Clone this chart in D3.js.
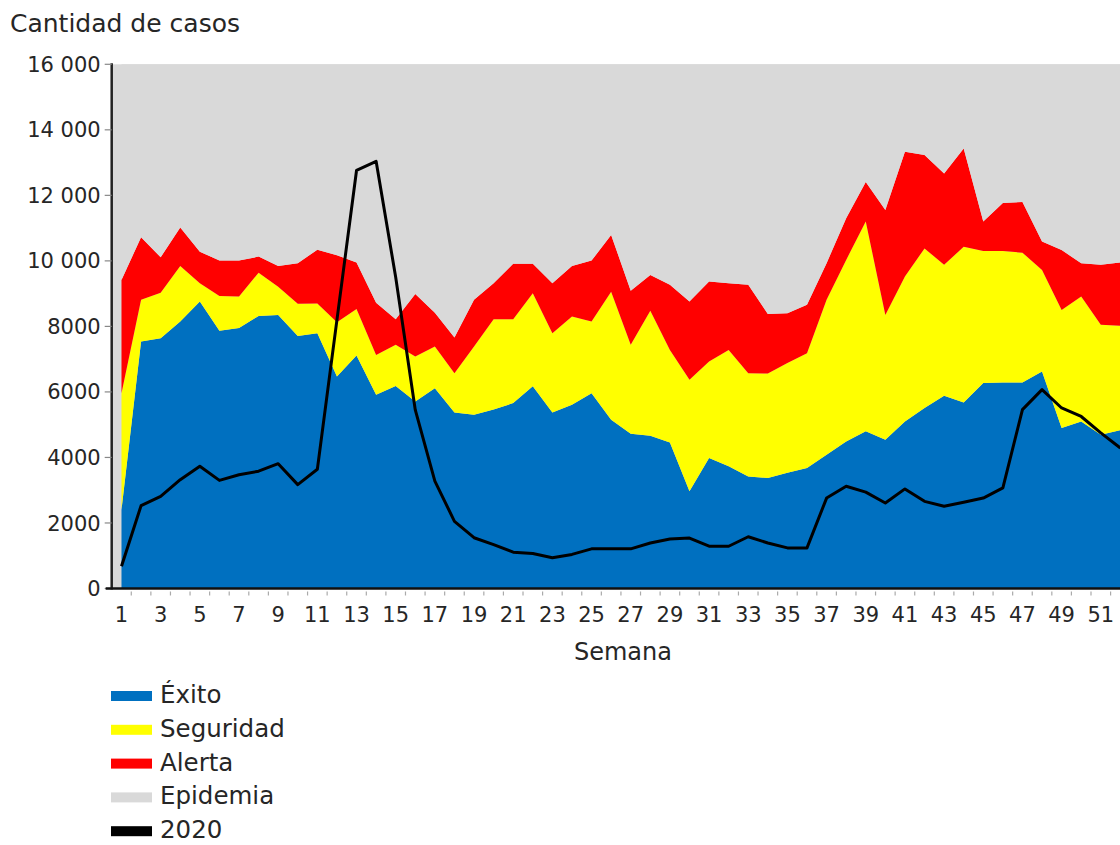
<!DOCTYPE html>
<html>
<head>
<meta charset="utf-8">
<script src="https://cdn.jsdelivr.net/npm/d3@7"></script>
<style>
  html, body { margin: 0; padding: 0; background: #ffffff; }
  svg { display: block; }
  text { font-family: "DejaVu Sans", Verdana, sans-serif; fill: #262626; }
</style>
</head>
<body>
<svg id="chart" width="1120" height="845"></svg>
<script>
// ---- Data ----
const weeks = [1,2,3,4,5,6,7,8,9,10,11,12,13,14,15,16,17,18,19,20,21,22,23,24,25,26,
  27,28,29,30,31,32,33,34,35,36,37,38,39,40,41,42,43,44,45,46,47,48,49,50,51,52];

// Upper limit of each channel zone (cases)
const exito = [2400,7540,7640,8150,8760,7870,7950,8320,8350,7710,7790,6470,7110,5910,6180,5710,6110,5370,
  5300,5460,5660,6170,5370,5610,5960,5150,4720,4660,4460,2970,3980,3730,3420,3370,3530,3680,
  4080,4490,4800,4540,5100,5510,5880,5680,6270,6290,6290,6620,4900,5100,4690,4830];
const seguridad = [5960,8810,9030,9840,9320,8930,8910,9640,9210,8690,8700,8130,8530,7130,7440,7080,7390,6570,
  7390,8220,8220,9010,7790,8300,8150,9060,7440,8480,7280,6370,6930,7280,6570,6560,6880,7180,
  8810,10030,11200,8350,9520,10380,9880,10430,10300,10300,10250,9720,8500,8910,8050,8020];
const alerta = [9420,10720,10110,11020,10280,10010,10010,10130,9840,9930,10340,10170,9950,8720,8220,8990,8420,7660,
  8810,9320,9910,9910,9320,9840,10010,10790,9090,9570,9270,8760,9370,9320,9270,8380,8400,8660,
  9930,11300,12410,11550,13330,13230,12670,13430,11200,11770,11800,10590,10330,9930,9880,9950];
const epidemia = 16000;

const casos2020 = [680,2530,2810,3320,3730,3300,3470,3580,3810,3170,3640,8200,12760,13040,9500,5450,3280,2050,
  1550,1340,1110,1070,940,1040,1210,1210,1210,1390,1510,1540,1290,1290,1580,1390,1240,1240,
  2760,3120,2940,2610,3040,2660,2510,2630,2760,3070,5460,6070,5510,5250,4750,4290];

const yTicks = [0,2000,4000,6000,8000,10000,12000,14000,16000];
const yTickLabels = ["0","2000","4000","6000","8000","10 000","12 000","14 000","16 000"];
const xLabelWeeks = weeks.filter(w => w % 2 === 1);

const seriesNames = ["Éxito","Seguridad","Alerta","Epidemia","2020"];
const seriesColors = ["#0070C0","#FFFF00","#FF0000","#D9D9D9","#000000"];

// ---- Layout ----
const svg = d3.select("#chart");
const plotLeft = 111.7, plotTop = 64.3, plotBottom = 588.5;
const step = 19.586;
const plotRight = plotLeft + step * weeks.length;

const x = d3.scaleLinear().domain([0.5, weeks.length + 0.5]).range([plotLeft, plotRight]);
const y = d3.scaleLinear().domain([0, epidemia]).range([plotBottom, plotTop]);

// Plot background (Epidemia zone)
svg.append("rect")
  .attr("x", plotLeft).attr("y", y(epidemia))
  .attr("width", plotRight - plotLeft).attr("height", y(0) - y(epidemia))
  .attr("fill", seriesColors[3]);

const zones = [
  { lo: weeks.map(() => 0), hi: exito, color: seriesColors[0] },
  { lo: exito, hi: seguridad, color: seriesColors[1] },
  { lo: seguridad, hi: alerta, color: seriesColors[2] },
  { lo: alerta, hi: weeks.map(() => epidemia), color: seriesColors[3] }
];
zones.forEach(z => {
  const area = d3.area()
    .x((d, i) => x(weeks[i]))
    .y0((d, i) => y(z.lo[i]))
    .y1((d, i) => y(z.hi[i]));
  svg.append("path").datum(weeks).attr("d", area).attr("fill", z.color);
});

// 2020 line
const line = d3.line().x((d, i) => x(weeks[i])).y(d => y(d));
svg.append("path").datum(casos2020)
  .attr("d", line)
  .attr("fill", "none")
  .attr("stroke", "#000")
  .attr("stroke-width", 3)
  .attr("stroke-linejoin", "round");

// Y axis
const yAxis = svg.append("g");
yAxis.append("line")
  .attr("x1", plotLeft).attr("x2", plotLeft)
  .attr("y1", y(epidemia) - 1).attr("y2", plotBottom + 1)
  .attr("stroke", "#222").attr("stroke-width", 2.5);
yTicks.forEach((t, i) => {
  yAxis.append("line")
    .attr("x1", plotLeft - 7).attr("x2", plotLeft)
    .attr("y1", y(t)).attr("y2", y(t))
    .attr("stroke", "#888").attr("stroke-width", 1.2);
  yAxis.append("text")
    .attr("x", plotLeft - 11).attr("y", y(t))
    .attr("dy", "0.36em")
    .attr("text-anchor", "end")
    .attr("font-size", 21)
    .text(yTickLabels[i]);
});

// X axis
const xAxis = svg.append("g");
xAxis.append("line")
  .attr("x1", plotLeft - 6).attr("x2", 1120)
  .attr("y1", plotBottom).attr("y2", plotBottom)
  .attr("stroke", "#111").attr("stroke-width", 2.5);
weeks.forEach(w => {
  const bx = x(w + 0.5);
  xAxis.append("line")
    .attr("x1", bx).attr("x2", bx)
    .attr("y1", plotBottom + 3).attr("y2", plotBottom + 7)
    .attr("stroke", "#aaa").attr("stroke-width", 1.2);
});
xLabelWeeks.forEach(w => {
  xAxis.append("text")
    .attr("x", x(w)).attr("y", 622)
    .attr("text-anchor", "middle")
    .attr("font-size", 21)
    .text(w);
});

// Titles
svg.append("text").attr("x", 10).attr("y", 32).attr("font-size", 25).text("Cantidad de casos");
svg.append("text").attr("x", 623).attr("y", 660).attr("text-anchor", "middle")
  .attr("font-size", 24).text("Semana");

// Legend
seriesNames.forEach((name, i) => {
  const by = 703 + i * 33.8;
  svg.append("rect")
    .attr("x", 111).attr("y", by - 12)
    .attr("width", 41).attr("height", 10)
    .attr("fill", seriesColors[i]);
  svg.append("text").attr("x", 160).attr("y", by)
    .attr("font-size", 24.5).text(name);
});
</script>
</body>
</html>
